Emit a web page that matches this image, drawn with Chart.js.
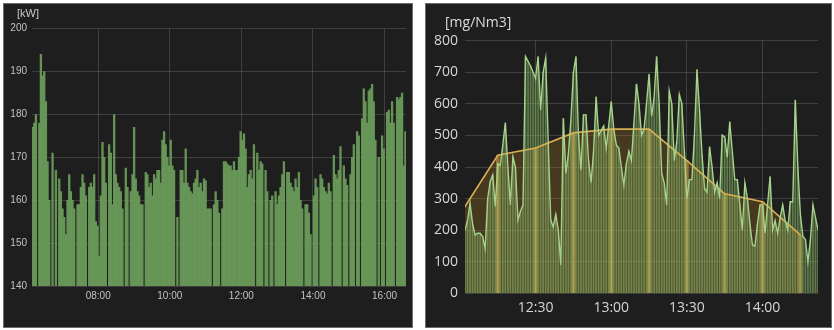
<!DOCTYPE html>
<html>
<head>
<meta charset="utf-8">
<script src="https://cdn.jsdelivr.net/npm/chart.js@4.4.1/dist/chart.umd.min.js"></script>
<style>
  html, body { margin: 0; padding: 0; background: #ffffff; }
  body { width: 834px; height: 330px; position: relative; overflow: hidden; }
  .panel { position: absolute; box-sizing: border-box; background: #1f1e1e; border: 1px solid #6b6b6b; }
  .panel canvas { position: absolute; left: -1px; top: -1px; }
</style>
</head>
<body>
<div class="panel" style="left:3px; top:3px; width:410px; height:325px;">
  <canvas id="kwChart" width="410" height="325"></canvas>
</div>
<div class="panel" style="left:425px; top:3px; width:407px; height:325px;">
  <canvas id="o2Chart" width="407" height="325"></canvas>
</div>
<script>
// ---- Power draw [kW], regular samples from 06:10 to 16:35 (null = no reading) ----
const kwFirstSample = '06:10';
const kwLastSample = '16:35';
const kwValues = [
  177, 178, 180, null, 178, 194, 189, 190, 183, 169,
  160, null, 171, null, 167, null, 165, 162, 158, 156,
  152, 160, 166, 162, 160, 158, null, 159, 159, 163,
  166, 164, 161, null, 163, 164, 163, 166, 155, 154,
  147, 161, 173.5, 170, 164, null, 173, 171, 159, 180,
  166, 164, 163, 162, 158, null, 167.5, 163, null, 162,
  166, 177, 165, 162, 161, 159, 159, null, 166.5, 166,
  163, 164, 161, 166, 165, 167, 167, 164, 174, 176,
  173, 170, 168, 174, 168, 167, null, 156, null, 167,
  167, 164, 172, 164, 163, 162, 161.5, 164, 165, 167,
  163, 164, 162, 165, 164.5, 158, 158, 158, null, 159,
  162, 160, 157, null, 158, 169, 169, 168.5, 168, 168,
  167, 169, 167, 167, 170, 176, 174, 175.5, 172, 163,
  166, 167, 165, 173, null, 171, 167, 169, 168.5, null,
  167, 162, null, 160, 161, null, 162, 159, 161, 163,
  166, 169, null, 166.5, 166.5, 164, 163, 162, 165, 163,
  166.5, 160, 158, null, 159, 159, 157, 152, null, 161,
  165, 163, null, 166, 165, 163, 162, 161.5, 164, 162,
  null, 170.5, 166, 165, 167, 172.5, null, 168, 165, 163.5,
  null, 166, 170, 173, null, 176, 175, null, 179, 186,
  183, 178, 185.5, 186, 187, 183, 174, null, 170, null,
  175, 172, null, 180.5, 181, 178, 183, 178, null, 184,
  183.5, 184, 185, 168, 176
];
const kwRange = ['06:09', '16:36'];
const kwTickLabels = ['08:00', '10:00', '12:00', '14:00', '16:00'];
const kwYTicks = [140, 150, 160, 170, 180, 190, 200];

// ---- Emission [mg/Nm3]: one reading per minute from 12:02 ----
const o2FirstSample = '12:02';
const o2Values = [
  200, 230, 285, 220, 185, 190, 190, 180, 142, 300,
  354, 375, 275, 410, 405, 470, 540, 400, 280, 433,
  400, 232, 260, 280, 750, 735, 720, 700, 680, 750,
  580, 700, 745, 480, 232, 210, 250, 200, 90, 554,
  380, 440, 550, 700, 750, 500, 390, 565, 565, 420,
  350, 450, 622, 500, 515, 530, 460, 530, 607, 520,
  470, 460, 400, 343, 410, 450, 420, 540, 663, 600,
  500, 520, 600, 694, 560, 620, 750, 600, 380, 350,
  280, 641, 600, 420, 480, 630, 600, 450, 300, 360,
  360, 500, 709, 580, 440, 332, 320, 464, 400, 320,
  350, 300, 501, 495, 430, 543, 450, 360, 360, 280,
  200, 350, 300, 220, 153, 150, 220, 280, 280, 190,
  280, 370, 200, 230, 190, 240, 280, 230, 200, 290,
  290, 612, 400, 250, 180, 170, 100, 170, 280, 240,
  200
];
// 15-minute averages
const avgTimes = ['12:00', '12:15', '12:30', '12:45', '13:00', '13:15', '13:30', '13:45', '14:00', '14:15'];
const avgValues = [250, 437, 460, 508, 520, 520, 420, 315, 290, 185];
const o2Range = ['12:02', '14:22'];
const o2TickLabels = ['12:30', '13:00', '13:30', '14:00'];

// ---- helpers ----
const toMinutes = s => { const p = s.split(':'); return Number(p[0]) * 60 + Number(p[1]); };
const clock = v => {
  const h = Math.floor(v / 60), m = Math.round(v - h * 60);
  return String(h).padStart(2, '0') + ':' + String(m).padStart(2, '0');
};
const gridColor = 'rgba(255,255,255,0.15)';

// Unit caption drawn in the panel's top-left corner
const unitLabel = {
  id: 'unitLabel',
  afterDraw(chart, args, opts) {
    const ctx = chart.ctx;
    ctx.save();
    ctx.font = opts.font;
    ctx.fillStyle = opts.color;
    ctx.textAlign = 'left';
    ctx.textBaseline = 'middle';
    ctx.fillText(opts.text, opts.x, opts.y);
    ctx.restore();
  }
};

function timeAxis(labels, range, font, color, pad, height) {
  return {
    type: 'linear',
    min: toMinutes(range[0]),
    max: toMinutes(range[1]),
    offset: false,
    grid: { color: gridColor, drawTicks: false, offset: false, lineWidth: 1 },
    border: { display: false },
    ticks: { font, color, padding: pad, maxRotation: 0, autoSkip: false, callback: v => clock(v) },
    afterBuildTicks: s => { s.ticks = labels.map(l => ({ value: toMinutes(l) })); },
    afterFit: s => { s.height = height; }
  };
}

// ---- left panel: kW bars ----
const kwStart = toMinutes(kwFirstSample);
const kwStep = (toMinutes(kwLastSample) - kwStart) / (kwValues.length - 1);
const kwPoints = kwValues.map((v, i) => ({ x: kwStart + i * kwStep, y: v }));

new Chart(document.getElementById('kwChart'), {
  type: 'bar',
  data: {
    datasets: [{
      data: kwPoints,
      backgroundColor: 'rgba(106,156,90,0.93)',
      borderWidth: 0,
      barPercentage: 1,
      categoryPercentage: 1
    }]
  },
  options: {
    responsive: false,
    animation: false,
    events: [],
    layout: { padding: { top: 25.7, right: 7, bottom: 0, left: 0 } },
    scales: {
      x: timeAxis(kwTickLabels, kwRange, { family: "'Liberation Sans', Arial, sans-serif", size: 10 }, '#c2c2c2', 4, 42),
      y: {
        min: kwYTicks[0],
        max: kwYTicks[kwYTicks.length - 1],
        grid: { color: gridColor, drawTicks: false },
        border: { display: false },
        ticks: { stepSize: 10, padding: 5, font: { family: "'Liberation Sans', Arial, sans-serif", size: 10 }, color: '#c2c2c2' },
        afterFit: s => { s.width = 29; }
      }
    },
    plugins: {
      legend: { display: false },
      tooltip: { enabled: false },
      unitLabel: { text: '[kW]', x: 14, y: 10.5, font: "11px 'Liberation Sans', Arial, sans-serif", color: '#c9c9c9' }
    }
  },
  plugins: [unitLabel]
});

// ---- right panel: emission readings with 15-minute averages ----
const o2Start = toMinutes(o2FirstSample);
const o2Points = o2Values.map((v, i) => ({ x: o2Start + i, y: v }));
const avgPoints = avgTimes.map((t, i) => ({ x: toMinutes(t), y: avgValues[i] }));

new Chart(document.getElementById('o2Chart'), {
  type: 'bar',
  data: {
    datasets: [
      {
        type: 'line',
        data: o2Points,
        borderColor: '#a6d38c',
        borderWidth: 1.4,
        pointRadius: 0,
        tension: 0,
        fill: 'origin',
        backgroundColor: 'rgba(110,160,80,0.22)',
        order: 0
      },
      {
        type: 'line',
        data: avgPoints,
        borderColor: '#dcae52',
        borderWidth: 1.6,
        pointRadius: 0,
        tension: 0,
        fill: 'origin',
        backgroundColor: 'rgba(175,125,40,0.28)',
        order: 1
      },
      {
        type: 'bar',
        data: o2Points,
        backgroundColor: 'rgba(165,210,125,0.42)',
        borderWidth: 0,
        barThickness: 1,
        grouped: false,
        order: 2
      },
      {
        type: 'bar',
        data: avgPoints,
        backgroundColor: 'rgba(225,180,80,0.5)',
        borderWidth: 0,
        barThickness: 3,
        grouped: false,
        order: 3
      }
    ]
  },
  options: {
    responsive: false,
    animation: false,
    events: [],
    layout: { padding: { top: 37.7, right: 14, bottom: 0, left: 0 } },
    scales: {
      x: timeAxis(o2TickLabels, o2Range, { family: "'Open Sans', sans-serif", size: 14 }, '#d6d6d6', 6.5, 34.7),
      y: {
        min: 0,
        max: 800,
        grid: { color: gridColor, drawTicks: false },
        border: { display: false },
        ticks: { stepSize: 100, padding: 7, font: { family: "'Open Sans', sans-serif", size: 14 }, color: '#d6d6d6' },
        afterFit: s => { s.width = 40; }
      }
    },
    plugins: {
      legend: { display: false },
      tooltip: { enabled: false },
      filler: { drawTime: 'beforeDatasetsDraw' },
      unitLabel: { text: '[mg/Nm3]', x: 20, y: 19.7, font: "14px 'Open Sans', sans-serif", color: '#dcdcdc' }
    }
  },
  plugins: [unitLabel]
});
</script>
</body>
</html>
